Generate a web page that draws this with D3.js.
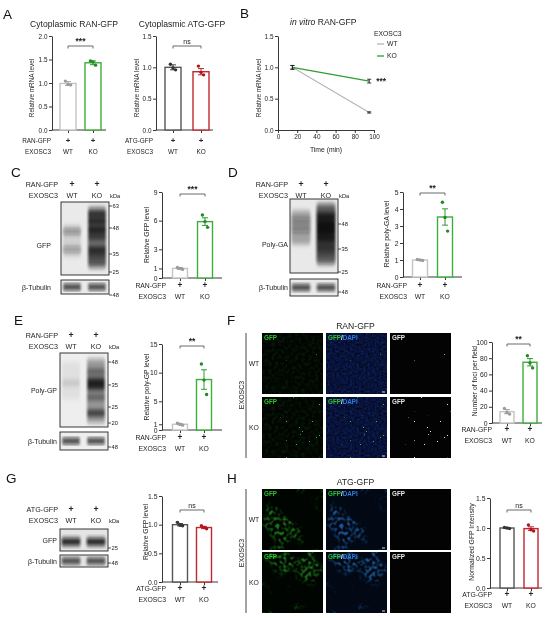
<!DOCTYPE html>
<html lang='en'>
<head>
<meta charset='utf-8'>
<script src='https://cdnjs.cloudflare.com/ajax/libs/d3/7.8.5/d3.min.js'></script>
<title>EXOSC3 and RAN-GFP</title>
<style>
body {
   margin:0;
   background:white;
   overflow:hidden;
   -webkit-font-smoothing:antialiased;
}
#fig {
   will-change:transform;
}
svg text {
   font-family:'Liberation Sans', Arial, sans-serif;
}
</style>
</head>
<body>
<svg id='fig' width='550' height='618'></svg>
<script>
var groups = ['WT', 'KO'];
var rowsRan = [['RAN-GFP', '+', '+'], ['EXOSC3', 'WT', 'KO']];
var rowsAtg = [['ATG-GFP', '+', '+'], ['EXOSC3', 'WT', 'KO']];

// A: cytoplasmic mRNA
var aRanMean = [0.99, 1.43], aRanSem = [0.04, 0.04];
var aRanPts = [[1.04, 0.97, 0.96], [1.47, 1.45, 1.38]];
var aAtgMean = [1.0, 0.93], aAtgSem = [0.04, 0.05];
var aAtgPts = [[1.05, 0.99, 0.96], [1.02, 0.92, 0.88]];

// B: in vitro decay
var bTime = [15, 95];
var bWT = [1.0, 0.28], bWTSem = [0.03, 0.01];
var bKO = [1.0, 0.78], bKOSem = [0.03, 0.03];
var bTicksX = [0, 20, 40, 60, 80, 100];

// C-H quantifications
var cMean = [1.0, 5.9], cSem = [0.1, 0.4];
var cPts = [[1.1, 1.0, 0.9], [6.6, 5.9, 5.3]];
var dMean = [1.0, 3.53], dSem = [0.03, 0.48];
var dPts = [[1.03, 1.0, 0.97], [4.4, 3.5, 2.7]];
var eMean = [1.0, 8.8], eSem = [0.1, 1.7];
var ePts = [[1.2, 1.0, 0.85], [11.5, 8.7, 6.2]];
var fMean = [14, 75], fSem = [2.5, 4.5];
var fPts = [[18, 13, 11], [83, 74, 68]];
var gMean = [1.0, 0.95], gSem = [0.02, 0.02];
var gPts = [[1.04, 0.99, 0.98], [0.98, 0.95, 0.93]];
var hMean = [1.0, 0.99], hSem = [0.01, 0.03];
var hPts = [[1.01, 1.0, 0.99], [1.05, 0.97, 0.95]];

// western blot bands: [lane, kDa, intensity]; smears: [lane, kDa top, kDa bottom, intensity]
var cBands = [[0, 46, 0.4], [0, 37, 0.35], [1, 57, 0.75], [1, 52, 0.85], [1, 47, 0.95], [1, 43, 0.65],
              [1, 37, 0.8], [1, 34, 0.55], [1, 30, 0.35]];
var cSmears = [[1, 62, 27, 0.55], [0, 50, 33, 0.1]];
var dBands = [[0, 50, 0.3], [0, 45, 0.3], [1, 53, 0.9], [1, 48, 1], [1, 44, 1],
              [1, 40, 0.9], [1, 36, 0.6], [1, 33, 0.35]];
var dSmears = [[0, 57, 37, 0.3], [1, 62, 28, 0.65]];
var eBands = [[0, 36, 0.12], [1, 42, 0.45], [1, 37, 0.9], [1, 34, 0.85], [1, 29, 0.45],
              [1, 23, 0.75]];
var eSmears = [[0, 48, 28, 0.06], [1, 50, 20, 0.4]];
var gBands = [[0, 28, 1], [1, 28, 1]];
var tubBands = [[0, 1], [1, 1]];

var svg = d3.select('#fig');
var defs = svg.append('defs');
var clipN = 0;

defs.append('filter').attr('id', 'blur').attr('x', '-50%').attr('y', '-50%').attr('width', '200%').attr('height', '200%')
   .append('feGaussianBlur').attr('stdDeviation', '1.3 2.6');

function letter(t, x, y) {
   svg.append('text').attr('x', x).attr('y', y).attr('font-size', 13.5).attr('fill', '#111').text(t);
}

function rowLabels(g, x, rows, rowX, rowY, fs) {
   rows.forEach(function(r, k) {
      g.append('text').attr('x', rowX).attr('y', rowY[k]).attr('text-anchor', 'end')
       .attr('font-size', fs).attr('fill', '#222').text(r[0]);
      groups.forEach(function(gr, i) {
         var plus = r[i + 1] === '+';
         g.append('text').attr('x', x(gr)).attr('y', rowY[k]).attr('text-anchor', 'middle')
          .attr('font-size', plus ? fs + 1.5 : fs).attr('font-weight', plus ? 'bold' : null)
          .attr('fill', '#222').text(r[i + 1]);
      });
   });
}

function barChart(c) {
   var g = svg.append('g');
   var fs = c.fs || 6.8;
   var y = d3.scaleLinear().domain([0, c.max]).range([c.y0, c.y1]);
   var x = d3.scalePoint().domain(groups).range([c.c0, c.c1]);
   var ya = g.append('g').attr('transform', 'translate(' + c.ax + ',0)')
      .call(d3.axisLeft(y).tickValues(c.ticks).tickFormat(d3.format(c.fmt)).tickSize(3).tickSizeOuter(0).tickPadding(1.5));
   ya.attr('font-size', fs);
   ya.selectAll('text').attr('fill', '#222');
   ya.selectAll('path,line').attr('stroke', '#222').attr('stroke-width', 0.9);
   g.append('line').attr('x1', c.ax).attr('x2', c.axEnd).attr('y1', c.y0).attr('y2', c.y0)
    .attr('stroke', '#222').attr('stroke-width', 0.9);
   var xa = g.append('g').attr('transform', 'translate(0,' + c.y0 + ')')
      .call(d3.axisBottom(x).tickSize(3).tickFormat(''));
   xa.select('.domain').remove();
   xa.selectAll('line').attr('stroke', '#222').attr('stroke-width', 0.9);

   g.selectAll('.bar').data(groups).enter().append('rect')
    .attr('x', function(d) { return x(d) - c.bw / 2; })
    .attr('y', function(d, i) { return y(c.mean[i]); })
    .attr('width', c.bw)
    .attr('height', function(d, i) { return y(0) - y(c.mean[i]); })
    .attr('fill', 'white')
    .attr('stroke', function(d, i) { return c.stroke[i]; })
    .attr('stroke-width', 1.4);

   groups.forEach(function(gr, i) {
      var cx = x(gr), lo = y(c.mean[i] - c.sem[i]), hi = y(c.mean[i] + c.sem[i]);
      g.append('path').attr('d', 'M' + cx + ',' + lo + 'V' + hi + 'M' + (cx - 3) + ',' + lo + 'H' + (cx + 3) + 'M' + (cx - 3) + ',' + hi + 'H' + (cx + 3))
       .attr('fill', 'none').attr('stroke', c.dot[i]).attr('stroke-width', 0.9);
      g.selectAll('.pt' + i).data(c.pts[i]).enter().append('circle')
       .attr('cx', function(d, j) { return cx + (j - 1) * 2.6; })
       .attr('cy', function(d) { return y(d); })
       .attr('r', 1.7)
       .attr('fill', c.dot[i]);
   });

   var sy = c.sigY;
   g.append('path').attr('d', 'M' + c.c0 + ',' + (sy + 2.5) + 'V' + sy + 'H' + c.c1 + 'V' + (sy + 2.5))
    .attr('fill', 'none').attr('stroke', '#444').attr('stroke-width', 0.8);
   g.append('text').attr('x', (c.c0 + c.c1) / 2).attr('y', sy - 2).attr('text-anchor', 'middle')
    .attr('font-size', c.sig === 'ns' ? 7 : 8.5).attr('font-weight', c.sig === 'ns' ? null : 'bold')
    .attr('fill', '#222').text(c.sig);

   g.append('text').attr('transform', 'translate(' + c.ylx + ',' + c.ylc + ') rotate(-90)')
    .attr('text-anchor', 'middle').attr('font-size', fs).attr('fill', '#222').text(c.ylab);

   rowLabels(g, x, c.rows, c.rowX, c.rowY, fs);
   if (c.title) {
      g.append('text').attr('x', c.titleX).attr('y', c.titleY).attr('text-anchor', 'middle')
       .attr('font-size', 8.6).attr('fill', '#222').text(c.title);
   }
}

function blot(c) {
   var g = svg.append('g');
   var k = d3.scaleLog().domain(c.kda).range(c.kdaY);
   var lane = d3.scalePoint().domain(groups).range(c.lanes);
   var boxes = [[c.y0, c.y1], [c.ty0, c.ty1]];
   boxes.forEach(function(b, bi) {
      var id = 'clip' + (clipN++);
      defs.append('clipPath').attr('id', id).append('rect')
         .attr('x', c.x0).attr('y', b[0]).attr('width', c.x1 - c.x0).attr('height', b[1] - b[0]);
      g.append('rect').attr('x', c.x0).attr('y', b[0]).attr('width', c.x1 - c.x0).attr('height', b[1] - b[0])
       .attr('fill', c.bg);
      var bg = g.append('g').attr('clip-path', 'url(#' + id + ')').append('g').attr('filter', 'url(#blur)');
      if (bi === 0) {
         c.smears.forEach(function(s) {
            bg.append('rect').attr('x', lane(groups[s[0]]) - c.laneW / 2).attr('y', k(s[1]))
              .attr('width', c.laneW).attr('height', k(s[2]) - k(s[1])).attr('rx', 3)
              .attr('fill', '#111').attr('opacity', s[3]);
         });
         c.bands.forEach(function(b) {
            bg.append('rect').attr('x', lane(groups[b[0]]) - c.laneW / 2).attr('y', k(b[1]) - c.bandH / 2)
              .attr('width', c.laneW).attr('height', c.bandH).attr('rx', 2)
              .attr('fill', '#111').attr('opacity', b[2]);
         });
      } else {
         tubBands.forEach(function(b) {
            bg.append('rect').attr('x', lane(groups[b[0]]) - c.laneW / 2).attr('y', (c.ty0 + c.ty1) / 2 - 2.4)
              .attr('width', c.laneW).attr('height', 4.8).attr('rx', 2)
              .attr('fill', '#111').attr('opacity', b[1]);
         });
      }
      g.append('rect').attr('x', c.x0).attr('y', b[0]).attr('width', c.x1 - c.x0).attr('height', b[1] - b[0])
       .attr('fill', 'none').attr('stroke', '#222').attr('stroke-width', 0.9);
   });
   c.marks.forEach(function(m) {
      g.append('line').attr('x1', c.x1).attr('x2', c.x1 + 3).attr('y1', k(m)).attr('y2', k(m)).attr('stroke', '#222').attr('stroke-width', 0.8);
      g.append('text').attr('x', c.x1 + 3.5).attr('y', k(m)).attr('dy', '0.35em').attr('font-size', 5.8).attr('fill', '#222').text(m);
   });
   var tm = c.ty1 + (c.tubMarkOff || 0);
   g.append('line').attr('x1', c.x1).attr('x2', c.x1 + 3).attr('y1', tm).attr('y2', tm).attr('stroke', '#222').attr('stroke-width', 0.8);
   g.append('text').attr('x', c.x1 + 3.5).attr('y', tm).attr('dy', '0.35em').attr('font-size', 5.8).attr('fill', '#222').text('48');
   g.append('text').attr('x', c.x1 + 1).attr('y', c.rowY[1]).attr('font-size', 5.8).attr('fill', '#222').text('kDa');
   g.append('text').attr('x', c.labelX).attr('y', c.labelY).attr('text-anchor', 'end').attr('font-size', 7).attr('fill', '#222').text(c.label);
   g.append('text').attr('x', c.labelX).attr('y', (c.ty0 + c.ty1) / 2 + 2.5).attr('text-anchor', 'end').attr('font-size', 7).attr('fill', '#222').text('β-Tubulin');
   rowLabels(g, lane, c.rows, c.rowX, c.rowY, 7.2);
}

// microscopy textures
function setF(f) {
   return f.attr('x', 0).attr('y', 0).attr('width', 1).attr('height', 1).attr('color-interpolation-filters', 'sRGB');
}
function noise(id, freq, seed, rgb, a, b) {
   var f = setF(defs.append('filter').attr('id', id));
   f.append('feTurbulence').attr('type', 'fractalNoise').attr('baseFrequency', freq).attr('numOctaves', 1).attr('seed', seed);
   f.append('feColorMatrix').attr('type', 'matrix')
    .attr('values', '0 0 0 0 ' + rgb[0] + ' 0 0 0 0 ' + rgb[1] + ' 0 0 0 0 ' + rgb[2] + ' ' + a + ' 0 0 0 ' + b);
}
function cells(id, seed, thr, rgb) {
   var f = setF(defs.append('filter').attr('id', id));
   f.append('feTurbulence').attr('type', 'fractalNoise').attr('baseFrequency', 0.035).attr('numOctaves', 2).attr('seed', seed).attr('result', 'big');
   f.append('feColorMatrix').attr('in', 'big').attr('type', 'matrix')
    .attr('values', '0 0 0 0 0 0 0 0 0 0 0 0 0 0 0 8 0 0 0 ' + (-8 * thr)).attr('result', 'mask');
   f.append('feTurbulence').attr('type', 'fractalNoise').attr('baseFrequency', 0.28).attr('numOctaves', 1).attr('seed', seed + 7).attr('result', 'small');
   f.append('feColorMatrix').attr('in', 'small').attr('type', 'matrix')
    .attr('values', '0 0 0 0 ' + rgb[0] + ' 0 0 0 0 ' + rgb[1] + ' 0 0 0 0 ' + rgb[2] + ' 3.4 0 0 0 -1.45').attr('result', 'cell');
   f.append('feComposite').attr('in', 'cell').attr('in2', 'mask').attr('operator', 'in');
}
noise('fociWT', 0.7, 11, [0.2, 0.7, 0.2], 40, -31.5);
noise('fociKO', 0.7, 12, [0.2, 0.75, 0.2], 40, -30);
noise('grayWT', 0.7, 11, [0.85, 0.85, 0.85], 40, -31.5);
noise('grayKO', 0.7, 12, [0.9, 0.9, 0.9], 40, -30);
noise('dapi', 0.45, 4, [0.06, 0.14, 0.45], 1.4, -0.3);
noise('dim', 0.3, 9, [0.05, 0.2, 0.05], 1.2, -0.5);
cells('cellG1', 3, 0.55, [0.1, 0.46, 0.1]);
cells('cellG2', 8, 0.535, [0.1, 0.46, 0.1]);
cells('cellB1', 3, 0.55, [0.1, 0.34, 0.58]);
cells('cellB2', 8, 0.535, [0.1, 0.34, 0.58]);

var imgW = 61, imgStep = 64, imgX0 = 262;

function micro(x, y, h, bgCol, layers, ci) {
   var g = svg.append('g').attr('transform', 'translate(' + x + ',' + y + ')');
   g.append('rect').attr('width', imgW).attr('height', h).attr('fill', bgCol);
   layers.forEach(function(l) {
      g.append('rect').attr('width', imgW).attr('height', h).attr('fill', 'black').attr('filter', 'url(#' + l + ')');
   });
   var t = g.append('text').attr('x', 2).attr('y', 7).attr('font-size', 6.3).attr('font-weight', 'bold');
   if (ci === 0) t.attr('fill', '#2fc42f').text('GFP');
   if (ci === 2) t.attr('fill', '#e8e8e8').text('GFP');
   if (ci === 1) {
      t.append('tspan').attr('fill', '#2fc42f').text('GFP');
      t.append('tspan').attr('fill', '#ffffff').text('/');
      t.append('tspan').attr('fill', '#2f7ee0').text('DAPI');
      g.append('line').attr('x1', imgW - 5).attr('x2', imgW - 2).attr('y1', h - 2).attr('y2', h - 2).attr('stroke', '#ddd').attr('stroke-width', 1);
   }
}

function imagePanel(title, rowY, h, spec, bgs, labelY) {
   svg.append('text').attr('x', imgX0 + imgStep + imgW / 2 - 1).attr('y', rowY[0] - 4).attr('text-anchor', 'middle')
      .attr('font-size', 8.6).attr('fill', '#222').text(title);
   svg.append('line').attr('x1', 246).attr('x2', 246).attr('y1', rowY[0]).attr('y2', rowY[1] + h)
      .attr('stroke', '#333').attr('stroke-width', 0.9);
   svg.append('text').attr('transform', 'translate(244,' + labelY + ') rotate(-90)').attr('text-anchor', 'middle')
      .attr('font-size', 7).attr('fill', '#222').text('EXOSC3');
   groups.forEach(function(gr, r) {
      svg.append('text').attr('x', 254).attr('y', rowY[r] + h / 2 + 2).attr('text-anchor', 'middle')
         .attr('font-size', 6.8).attr('fill', '#222').text(gr);
      d3.range(3).forEach(function(ci) {
         micro(imgX0 + ci * imgStep, rowY[r], h, bgs[ci], spec[r][ci], ci);
      });
   });
}

// ---------- A ----------
letter('A', 3, 19);
barChart({ax: 52, axEnd: 106, y0: 130, y1: 36, max: 2, ticks: [0, 0.5, 1, 1.5, 2], fmt: '.1f',
   c0: 68, c1: 93, bw: 16, mean: aRanMean, sem: aRanSem, pts: aRanPts,
   stroke: ['#c4c4c4', '#3cae3c'], dot: ['#9c9c9c', '#1f8c1f'], fs: 6.4,
   ylab: 'Relative mRNA level', ylx: 34, ylc: 88, sig: '***', sigY: 46,
   rows: rowsRan, rowX: 51, rowY: [143, 154], title: 'Cytoplasmic RAN-GFP', titleX: 74, titleY: 27});
barChart({ax: 156, axEnd: 213, y0: 130, y1: 36, max: 1.5, ticks: [0, 0.5, 1, 1.5], fmt: '.1f',
   c0: 173, c1: 201, bw: 16, mean: aAtgMean, sem: aAtgSem, pts: aAtgPts,
   stroke: ['#555555', '#c0272d'], dot: ['#333333', '#b3141b'], fs: 6.4,
   ylab: 'Relative mRNA level', ylx: 139, ylc: 88, sig: 'ns', sigY: 46,
   rows: rowsAtg, rowX: 153, rowY: [143, 154], title: 'Cytoplasmic ATG-GFP', titleX: 182, titleY: 27});

// ---------- B ----------
letter('B', 240, 18);
(function() {
   var g = svg.append('g');
   var x = d3.scaleLinear().domain([0, 100]).range([278, 374]);
   var y = d3.scaleLinear().domain([0, 1.5]).range([130, 36]);
   var ya = g.append('g').attr('transform', 'translate(278,0)')
      .call(d3.axisLeft(y).tickValues([0, 0.5, 1, 1.5]).tickFormat(d3.format('.1f')).tickSize(3).tickSizeOuter(0).tickPadding(1.5));
   var xa = g.append('g').attr('transform', 'translate(0,130)')
      .call(d3.axisBottom(x).tickValues(bTicksX).tickSize(3).tickSizeOuter(0).tickPadding(1.5));
   [ya, xa].forEach(function(a) {
      a.attr('font-size', 6.4);
      a.selectAll('text').attr('fill', '#222');
      a.selectAll('path,line').attr('stroke', '#222').attr('stroke-width', 0.9);
   });
   var line = d3.line().x(function(d, i) { return x(bTime[i]); }).y(function(d) { return y(d); });
   g.append('path').attr('d', line(bWT)).attr('fill', 'none').attr('stroke', '#b5b5b5').attr('stroke-width', 1.1);
   g.append('path').attr('d', line(bKO)).attr('fill', 'none').attr('stroke', '#2e9e2e').attr('stroke-width', 1.3);
   [[bWT, bWTSem], [bKO, bKOSem]].forEach(function(s) {
      s[0].forEach(function(v, i) {
         var cx = x(bTime[i]), lo = y(v - s[1][i]), hi = y(v + s[1][i]);
         g.append('path').attr('d', 'M' + cx + ',' + lo + 'V' + hi + 'M' + (cx - 2) + ',' + lo + 'H' + (cx + 2) + 'M' + (cx - 2) + ',' + hi + 'H' + (cx + 2))
          .attr('fill', 'none').attr('stroke', '#222').attr('stroke-width', 0.9);
      });
   });
   g.append('text').attr('x', x(95) + 7).attr('y', y(bKO[1]) + 3).attr('font-size', 8.5).attr('font-weight', 'bold').attr('fill', '#222').text('***');
   g.append('text').attr('x', 326).attr('y', 152).attr('text-anchor', 'middle').attr('font-size', 6.8).attr('fill', '#222').text('Time (min)');
   g.append('text').attr('transform', 'translate(261,88) rotate(-90)').attr('text-anchor', 'middle').attr('font-size', 6.4).attr('fill', '#222').text('Relative mRNA level');
   var t = g.append('text').attr('x', 290).attr('y', 25).attr('font-size', 8.6).attr('fill', '#222');
   t.append('tspan').attr('font-style', 'italic').text('in vitro');
   t.append('tspan').text(' RAN-GFP');
   g.append('text').attr('x', 374).attr('y', 36).attr('font-size', 6.8).attr('fill', '#222').text('EXOSC3');
   [['WT', '#b5b5b5'], ['KO', '#2e9e2e']].forEach(function(l, i) {
      var ly = 44 + i * 12;
      g.append('line').attr('x1', 377).attr('x2', 384).attr('y1', ly).attr('y2', ly).attr('stroke', l[1]).attr('stroke-width', 1.3);
      g.append('text').attr('x', 387).attr('y', ly + 2.4).attr('font-size', 6.8).attr('fill', '#222').text(l[0]);
   });
})();

// ---------- C ----------
letter('C', 11, 177);
blot({x0: 61, x1: 109, y0: 202, y1: 275, ty0: 280, ty1: 294, lanes: [72, 97], laneW: 18, bandH: 6, bg: '#eaeaea',
   kda: [63, 48, 35, 25], kdaY: [206, 228, 254, 272], marks: [63, 48, 35, 25], tubMarkOff: 1,
   bands: cBands, smears: cSmears, label: 'GFP', labelX: 51, labelY: 248,
   rows: rowsRan, rowX: 58, rowY: [187, 198]});
barChart({ax: 162, axEnd: 222, y0: 278, y1: 192, max: 9, ticks: [0, 1, 3, 6, 9], fmt: 'd',
   c0: 180, c1: 205, bw: 15, mean: cMean, sem: cSem, pts: cPts,
   stroke: ['#c4c4c4', '#3cae3c'], dot: ['#9c9c9c', '#1f8c1f'],
   ylab: 'Relative GFP level', ylx: 149, ylc: 235, sig: '***', sigY: 194,
   rows: rowsRan, rowX: 166, rowY: [288, 299]});

// ---------- D ----------
letter('D', 228, 177);
blot({x0: 290, x1: 338, y0: 199, y1: 273, ty0: 279, ty1: 296, lanes: [301, 326], laneW: 19, bandH: 7, bg: '#e9e9e9',
   kda: [48, 35, 25], kdaY: [224, 249, 272], marks: [48, 35, 25], tubMarkOff: -4,
   bands: dBands, smears: dSmears, label: 'Poly-GA', labelX: 288, labelY: 247,
   rows: rowsRan, rowX: 288, rowY: [187, 198]});
barChart({ax: 403, axEnd: 462, y0: 277, y1: 192, max: 5, ticks: [0, 1, 2, 3, 4, 5], fmt: 'd',
   c0: 420, c1: 445, bw: 15, mean: dMean, sem: dSem, pts: dPts,
   stroke: ['#c4c4c4', '#3cae3c'], dot: ['#9c9c9c', '#1f8c1f'],
   ylab: 'Relative poly-GA level', ylx: 389, ylc: 234, sig: '**', sigY: 193,
   rows: rowsRan, rowX: 407, rowY: [288, 299]});

// ---------- E ----------
letter('E', 14, 325);
blot({x0: 60, x1: 108, y0: 353, y1: 427, ty0: 432, ty1: 450, lanes: [71, 96], laneW: 18, bandH: 6, bg: '#eeeeee',
   kda: [48, 35, 25, 20], kdaY: [362, 385, 407, 423], marks: [48, 35, 25, 20], tubMarkOff: -3,
   bands: eBands, smears: eSmears, label: 'Poly-GP', labelX: 57, labelY: 393,
   rows: rowsRan, rowX: 58, rowY: [338, 349]});
barChart({ax: 162, axEnd: 222, y0: 430, y1: 344, max: 15, ticks: [0, 1, 5, 10, 15], fmt: 'd',
   c0: 180, c1: 204, bw: 15, mean: eMean, sem: eSem, pts: ePts,
   stroke: ['#c4c4c4', '#3cae3c'], dot: ['#9c9c9c', '#1f8c1f'],
   ylab: 'Relative poly-GP level', ylx: 149, ylc: 387, sig: '**', sigY: 346,
   rows: rowsRan, rowX: 166, rowY: [440, 451]});

// ---------- F ----------
letter('F', 227, 325);
imagePanel('RAN-GFP', [333, 397], 61,
   [[['dim', 'fociWT'], ['dapi', 'fociWT'], ['grayWT']],
    [['dim', 'fociKO'], ['dapi', 'fociKO'], ['grayKO']]],
   ['#010401', '#030714', '#030303'], 395);
barChart({ax: 492, axEnd: 542, y0: 423, y1: 342, max: 100, ticks: [0, 20, 40, 60, 80, 100], fmt: 'd',
   c0: 507, c1: 530, bw: 14, mean: fMean, sem: fSem, pts: fPts,
   stroke: ['#c4c4c4', '#3cae3c'], dot: ['#9c9c9c', '#1f8c1f'],
   ylab: 'Number of foci per field', ylx: 477, ylc: 381, sig: '**', sigY: 344,
   rows: rowsRan, rowX: 492, rowY: [432, 443]});

// ---------- G ----------
letter('G', 6, 483);
blot({x0: 60, x1: 108, y0: 529, y1: 551, ty0: 555, ty1: 567, lanes: [71, 96], laneW: 19, bandH: 7, bg: '#e4e4e4',
   kda: [30, 25], kdaY: [538, 548], marks: [25], tubMarkOff: -4,
   bands: gBands, smears: [], label: 'GFP', labelX: 57, labelY: 543,
   rows: rowsAtg, rowX: 58, rowY: [512, 523]});
barChart({ax: 162, axEnd: 218, y0: 582, y1: 496, max: 1.5, ticks: [0, 0.5, 1, 1.5], fmt: '.1f',
   c0: 180, c1: 204, bw: 15, mean: gMean, sem: gSem, pts: gPts,
   stroke: ['#555555', '#c0272d'], dot: ['#333333', '#b3141b'],
   ylab: 'Relative GFP level', ylx: 148, ylc: 532, sig: 'ns', sigY: 510,
   rows: rowsAtg, rowX: 166, rowY: [591, 602]});

// ---------- H ----------
letter('H', 227, 483);
imagePanel('ATG-GFP', [489, 552], 61,
   [[['cellG1'], ['cellB1'], []],
    [['cellG2'], ['cellB2'], []]],
   ['#010501', '#020814', '#030303'], 553);
barChart({ax: 490, axEnd: 542, y0: 588, y1: 498, max: 1.5, ticks: [0, 0.5, 1, 1.5], fmt: '.1f',
   c0: 507, c1: 531, bw: 14, mean: hMean, sem: hSem, pts: hPts,
   stroke: ['#555555', '#c0272d'], dot: ['#333333', '#b3141b'],
   ylab: 'Normalized GFP Intensity', ylx: 474, ylc: 542, sig: 'ns', sigY: 510,
   rows: rowsAtg, rowX: 492, rowY: [597, 608]});
</script>
</body>
</html>
